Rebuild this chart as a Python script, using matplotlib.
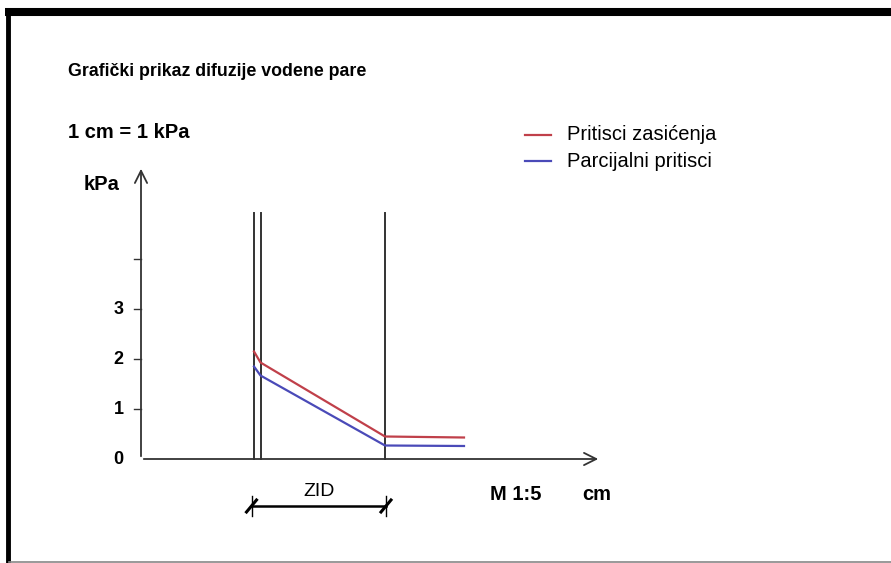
import matplotlib.pyplot as plt

plt.rcParams['font.family'] = ['Liberation Sans', 'DejaVu Sans']

# data (x in cm, y in kPa)
walls = [2.26, 2.39, 4.88]
x_sat = [2.26, 2.39, 4.88, 6.46]
y_sat = [2.15, 1.93, 0.45, 0.43]
x_par = [2.26, 2.39, 4.88, 6.46]
y_par = [1.85, 1.67, 0.27, 0.26]
yticks = [1, 2, 3, 4]
ytick_labels = ['1', '2', '3', '']

W, H = 891, 563
x0, y0, ppu = 141, 459, 50.0   # origin in pixels, pixels per unit

fig = plt.figure(figsize=(W / 100, H / 100), dpi=100)
ax = fig.add_axes([0, 0, 1, 1])
ax.set_xlim(-x0 / ppu, (W - x0) / ppu)
ax.set_ylim(-(H - y0) / ppu, y0 / ppu)
ax.axis('off')

# border of the page
fig.add_artist(plt.Line2D([8 / W, 8 / W], [0, 1 - 8 / H], color='black', lw=3.5,
                          transform=fig.transFigure, solid_capstyle='butt'))
fig.add_artist(plt.Line2D([5 / W, 1], [1 - 12 / H, 1 - 12 / H], color='black', lw=5.8,
                          transform=fig.transFigure, solid_capstyle='butt'))
fig.add_artist(plt.Line2D([9 / W, 1], [1.5 / H, 1.5 / H], color='#888888', lw=1.2,
                          transform=fig.transFigure))

# axes with arrows
ax.annotate('', xy=(0, (y0 - 166) / ppu), xytext=(0, 0),
            arrowprops=dict(arrowstyle='->', color='#333333', lw=1.3, mutation_scale=22))
ax.annotate('', xy=((601 - x0) / ppu, 0), xytext=(0, 0),
            arrowprops=dict(arrowstyle='->', color='#333333', lw=1.3, mutation_scale=22))
for t, lab in zip(yticks, ytick_labels):
    ax.plot([-0.14, 0], [t, t], color='#333333', lw=1)
    ax.text(-0.45, t, lab, ha='center', va='center', fontsize=13, fontweight='bold')
ax.text(-0.45, 0, '0', ha='center', va='center', fontsize=13, fontweight='bold')

# wall lines
for xw in walls:
    ax.plot([xw, xw], [0, (y0 - 213) / ppu], color='#333333', lw=1.4)

ax.plot(x_sat, y_sat, color='#c0404a', lw=1.6)
ax.plot(x_par, y_par, color='#4a4ab8', lw=1.6)

# dimension line for the wall
yd = (y0 - 506) / ppu
ax.plot([walls[0] - 0.05, walls[2] + 0.02], [yd, yd], color='black', lw=1.8)
for xw in [walls[0] - 0.05, walls[2] + 0.02]:
    ax.plot([xw, xw], [yd - 0.2, yd + 0.2], color='black', lw=1)
    ax.plot([xw - 0.1, xw + 0.1], [yd - 0.12, yd + 0.12], color='black', lw=2.2)
ax.text((walls[0] + walls[2]) / 2, (y0 - 492) / ppu, 'ZID', ha='center', va='center', fontsize=14)

# texts
fig.text(68 / W, 1 - 72 / H, 'Grafički prikaz difuzije vodene pare', fontsize=12.8,
         fontweight='bold', va='center')
fig.text(68 / W, 1 - 133 / H, '1 cm = 1 kPa', fontsize=14.5, fontweight='bold', va='center')
fig.text(84 / W, 1 - 185 / H, 'kPa', fontsize=14.5, fontweight='bold', va='center')
fig.text(490 / W, 1 - 495 / H, 'M 1:5', fontsize=14.5, fontweight='bold', va='center')
fig.text(582 / W, 1 - 495 / H, 'cm', fontsize=14.5, fontweight='bold', va='center')

# legend
for yy, col, lab in [(135, '#c0404a', 'Pritisci zasićenja'), (161, '#4a4ab8', 'Parcijalni pritisci')]:
    fig.add_artist(plt.Line2D([525 / W, 551 / W], [1 - yy / H, 1 - yy / H], color=col, lw=1.6,
                              transform=fig.transFigure))
    fig.text(567 / W, 1 - yy / H, lab, fontsize=14.5, va='center')

fig.savefig('out.png', dpi=100)
